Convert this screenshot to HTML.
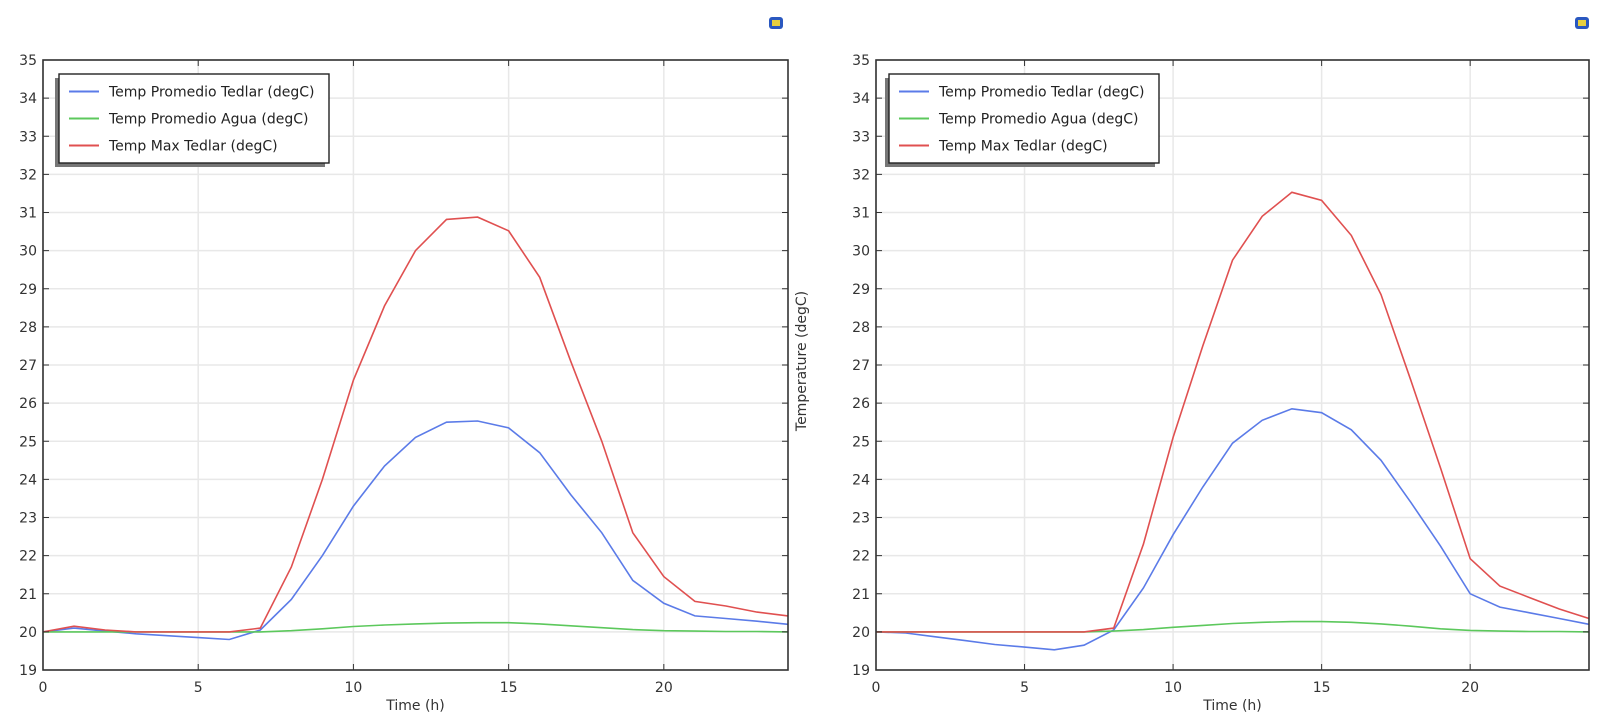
<!DOCTYPE html>
<html><head><meta charset="utf-8">
<style>
html,body{margin:0;padding:0;background:#fff;}
svg{display:block;font-family:"DejaVu Sans","Liberation Sans",sans-serif;}
</style></head><body>
<svg id="s" width="1620" height="722" xmlns="http://www.w3.org/2000/svg"></svg>
<script>
const S=document.getElementById('s');let h='';
function plot(L,R,T,B,data,legX,ylabel,icon){
 const xs=v=>L+(R-L)*v/24, ys=v=>T+(B-T)*(35-v)/16;
 // grid
 for(let v=19;v<=35;v++){const y=ys(v);h+=`<line x1="${L}" x2="${R}" y1="${y}" y2="${y}" stroke="#e8e8e8" stroke-width="1.5"/>`;}
 for(let t=0;t<=24;t+=5){const x=xs(t);h+=`<line x1="${x}" x2="${x}" y1="${T}" y2="${B}" stroke="#e8e8e8" stroke-width="1.5"/>`;}
 // series
 const cols=['#5b7be8','#5cc85c','#e05050'];
 [0,1,2].forEach(i=>{h+=`<polyline fill="none" stroke="${cols[i]}" stroke-width="1.6" points="${data[i].map((v,k)=>xs(k).toFixed(1)+','+ys(v).toFixed(1)).join(' ')}"/>`;});
 // ticks
 for(let v=19;v<=35;v++){const y=ys(v);h+=`<line x1="${L}" x2="${L+6}" y1="${y}" y2="${y}" stroke="#333"/><line x1="${R-6}" x2="${R}" y1="${y}" y2="${y}" stroke="#333"/><text x="${L-6}" y="${y+5}" font-size="14" text-anchor="end" fill="#333">${v}</text>`;}
 for(let t=0;t<=24;t+=5){const x=xs(t);h+=`<line x1="${x}" x2="${x}" y1="${B-6}" y2="${B}" stroke="#333"/><line x1="${x}" x2="${x}" y1="${T}" y2="${T+6}" stroke="#333"/><text x="${x}" y="${B+22}" font-size="14" text-anchor="middle" fill="#333">${t}</text>`;}
 h+=`<rect x="${L}" y="${T}" width="${R-L}" height="${B-T}" fill="none" stroke="#333" stroke-width="1.6"/>`;
 h+=`<text x="${(L+R)/2}" y="${B+40}" font-size="14" text-anchor="middle" fill="#333">Time (h)</text>`;
 if(ylabel) h+=`<text transform="translate(${ylabel[0]},${ylabel[1]}) rotate(-90)" font-size="14" text-anchor="middle" fill="#333">Temperature (degC)</text>`;
 // legend
 const lx=legX,ly=74,lw=270,lh=89;
 h+=`<rect x="${lx-4}" y="${ly+4}" width="${lw}" height="${lh}" fill="#777"/><rect x="${lx}" y="${ly}" width="${lw}" height="${lh}" fill="#fff" stroke="#222" stroke-width="1.4"/>`;
 const names=['Temp Promedio Tedlar (degC)','Temp Promedio Agua (degC)','Temp Max Tedlar (degC)'];
 names.forEach((n,i)=>{const y=ly+17+i*27;h+=`<line x1="${lx+10}" x2="${lx+40}" y1="${y+0.5}" y2="${y+0.5}" stroke="${cols[i]}" stroke-width="2"/><text x="${lx+50}" y="${y+5.5}" font-size="14" fill="#222">${n}</text>`;});
 // icon
 h+=`<rect x="${icon-7}" y="17" width="14" height="12" rx="3" fill="#2a58c0"/><rect x="${icon-4}" y="20" width="8" height="6" fill="#e8d040"/>`;
}
const lb=[20,20.1,20.02,19.95,19.9,19.85,19.8,20.05,20.85,22.0,23.3,24.35,25.1,25.5,25.53,25.35,24.7,23.6,22.6,21.35,20.75,20.42,20.35,20.28,20.2];
const lr=[20,20.15,20.05,20,20,20,20,20.1,21.7,24.0,26.6,28.55,30.0,30.82,30.88,30.52,29.3,27.1,25.0,22.6,21.45,20.8,20.68,20.52,20.42];
const lg=[20,20,20,20,20,20,20,20,20.03,20.08,20.14,20.18,20.21,20.23,20.24,20.24,20.21,20.16,20.11,20.06,20.03,20.02,20.01,20.01,20.0];
const rb=[20,19.97,19.87,19.77,19.67,19.6,19.53,19.65,20.05,21.15,22.55,23.8,24.95,25.55,25.85,25.75,25.3,24.5,23.4,22.25,21.0,20.65,20.5,20.35,20.2];
const rr=[20,20,20,20,20,20,20,20,20.1,22.3,25.1,27.5,29.75,30.9,31.53,31.32,30.4,28.85,26.6,24.3,21.92,21.2,20.9,20.6,20.35];
const rg=[20,20,20,20,20,20,20,20,20.02,20.06,20.12,20.17,20.22,20.25,20.27,20.27,20.25,20.21,20.15,20.08,20.04,20.02,20.01,20.01,20.0];
plot(43,788,60,670,[lb,lg,lr],59,[806,361],776);
plot(876,1589,60,670,[rb,rg,rr],889,null,1582);
S.innerHTML=h;
</script>
</body></html>
